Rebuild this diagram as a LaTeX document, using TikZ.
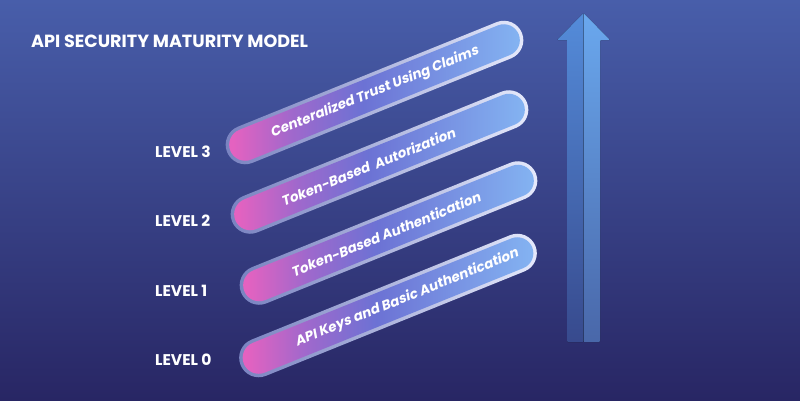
\documentclass[tikz,border=0pt]{standalone}
\usepackage{fontspec}
\setmainfont{Poppins}
\newfontfamily\pillfont{Poppins}[FakeSlant=0.2]
\usetikzlibrary{shapes.misc, positioning, calc}
\definecolor{bgtop}{RGB}{72,94,170}
\definecolor{bgbot}{RGB}{40,38,100}
\definecolor{rimlow}{RGB}{120,130,192}
\definecolor{rimhigh}{RGB}{230,234,252}
\definecolor{pillpink}{RGB}{228,98,192}
\definecolor{pillplum}{RGB}{160,104,204}
\definecolor{pillmid}{RGB}{108,114,212}
\definecolor{pillsky}{RGB}{132,180,242}
\definecolor{arrowlite}{RGB}{106,168,238}
\definecolor{arrowdark}{RGB}{84,140,218}
\pgfdeclarehorizontalshading{pillshade}{100bp}{color(0bp)=(pillpink); color(26bp)=(pillpink); color(36bp)=(pillplum); color(48bp)=(pillmid); color(75bp)=(pillsky); color(100bp)=(pillsky)}

\begin{document}
\begin{tikzpicture}[
        x=1pt, y=-1pt,
        rim/.style={
            rounded rectangle,
            minimum width=318pt,
            minimum height=39pt,
            inner sep=0pt,
            left color=rimlow,
            right color=rimhigh,
            rotate=22
        },
        pill/.style={
            rounded rectangle,
            minimum width=311pt,
            minimum height=32pt,
            inner sep=0pt,
            shading=pillshade,
            rotate=22
        },
        pilltext/.style={
            text=white,
            inner sep=0pt,
            font=\fontsize{13.6}{16}\pillfont\bfseries,
            rotate=22
        },
        level/.style={
            anchor=west,
            text=white,
            inner sep=0pt,
            font=\fontsize{15.5}{18}\selectfont\bfseries
        }
    ]
        % Background
        \useasboundingbox (0,0) rectangle (800,400);
        \fill[top color=bgtop, bottom color=bgbot] (0,0) rectangle (800,400);

        % Title
        \node[anchor=west, text=white, inner sep=0pt, font=\fontsize{17.6}{20}\selectfont\bfseries] (title) at (31,41) {API SECURITY MATURITY MODEL};

        % Rising arrow (two halves)
        \fill[top color=arrowdark, bottom color=bgbot!65!arrowdark, rounded corners=1pt] (567,342) -- (567,40) -- (557,40) -- (583.5,13) -- (583.5,342) -- cycle;
        \fill[top color=arrowlite, bottom color=bgbot!50!arrowlite, rounded corners=1pt] (583.5,342) -- (583.5,13) -- (610,40) -- (600,40) -- (600,342) -- cycle;

        % Pills, top to bottom
        \node[rim] (rim3) at (374.5,92.5) {};
        \node[pill] (pill3) at (rim3.center) {};
        \node[pilltext] (txt3) at (pill3.center) {Centeralized Trust Using Claims};
        \node[rim] (rim2) at (379.5,162) {};
        \node[pill] (pill2) at (rim2.center) {};
        \node[pilltext] (txt2) at ($(pill2.center)!0.08!(pill2.west)$) {Token-Based\ \ Autorization};
        \node[rim] (rim1) at (388.5,233) {};
        \node[pill] (pill1) at (rim1.center) {};
        \node[pilltext] (txt1) at ($(pill1.center)!0.02!(pill1.west)$) {Token-Based Authentication};
        \node[rim] (rim0) at (388,305.5) {};
        \node[pill] (pill0) at (rim0.center) {};
        \node[pilltext] (txt0) at ($(pill0.center)!0.13!(pill0.east)$) {API Keys and Basic Authentication};

        % Level labels
        \node[level] (lv3) at (155,152) {LEVEL 3};
        \node[level] (lv2) at (155,221) {LEVEL 2};
        \node[level] (lv1) at (155,291) {LEVEL 1};
        \node[level] (lv0) at (155,360) {LEVEL 0};
    \end{tikzpicture}
\end{document}
